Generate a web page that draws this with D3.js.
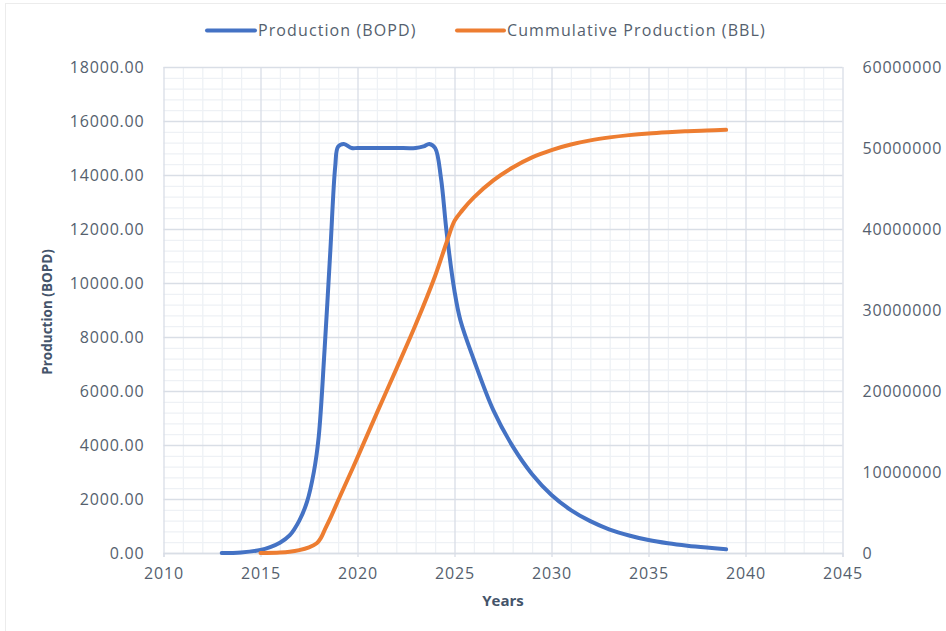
<!DOCTYPE html>
<html>
<head>
<meta charset="utf-8">
<script src="https://cdn.jsdelivr.net/npm/d3@7"></script>
<style>
  html, body { margin: 0; padding: 0; background: #ffffff; }
  svg { display: block; }
  .tick-label { font-family: "Open Sans", sans-serif; font-size: 16px; fill: #555f6e; letter-spacing: 0.8px; }
  .legend-label { font-family: "Open Sans", sans-serif; font-size: 16px; fill: #555f6e; letter-spacing: 1.1px; }
  .axis-title { font-family: "Open Sans", sans-serif; font-weight: 700; fill: #44546a; }
</style>
</head>
<body>
<svg id="chart" width="946" height="631"></svg>
<script>
// ---------------- DATA ----------------
const seriesNames = ["Production (BOPD)", "Cummulative Production (BBL)"];

// Production (BOPD), left axis
const prodYears  = [2013, 2014, 2015, 2015.5, 2016, 2016.5, 2017, 2017.4, 2017.75, 2018, 2018.3, 2018.6, 2018.85, 2019, 2019.3, 2019.7, 2020, 2021, 2022, 2023, 2023.4, 2023.7, 2024, 2024.3, 2024.6, 2025, 2025.3, 2026, 2027, 2028, 2029, 2030, 2031, 2032, 2033, 2034, 2035, 2036, 2037, 2038, 2039];
const prodValues = [0, 20, 110, 220, 380, 650, 1200, 1900, 3000, 4300, 7500, 11200, 14300, 15050, 15150, 15000, 15000, 15000, 15000, 15000, 15060, 15150, 15000, 13900, 11840, 9700, 8630, 7150, 5290, 3950, 2920, 2150, 1590, 1180, 870, 650, 480, 360, 270, 200, 140];

// Cumulative production (BBL), right axis
const cumYears  = [2015, 2016, 2016.5, 2017, 2017.5, 2017.9, 2018.1, 2018.3, 2018.6, 2019.1, 2020, 2021, 2022, 2023, 2024, 2024.6, 2025, 2025.4, 2026, 2027, 2028, 2029, 2030, 2031, 2032, 2033, 2034, 2035, 2036, 2037, 2038, 2039];
const cumValues = [0, 60000, 150000, 350000, 700000, 1200000, 1800000, 2800000, 4300000, 7000000, 11800000, 17300000, 22700000, 28200000, 34200000, 38400000, 41000000, 42300000, 43900000, 46000000, 47600000, 48850000, 49750000, 50430000, 50940000, 51310000, 51590000, 51800000, 51950000, 52070000, 52160000, 52240000];

// Axis ticks
const xTicks = [2010, 2015, 2020, 2025, 2030, 2035, 2040, 2045];
const leftTicks = [0, 2000, 4000, 6000, 8000, 10000, 12000, 14000, 16000, 18000];
const rightTicks = [0, 10000000, 20000000, 30000000, 40000000, 50000000, 60000000];
const xMinorStep = 1;
const leftMinorStep = 400;

const xTitle = "Years";
const yTitle = "Production (BOPD)";

// ---------------- LAYOUT ----------------
const colors = ["#4472C4", "#ED7D31"];
const plot = { left: 163.5, right: 842.5, top: 67, bottom: 553 };

const svg = d3.select("#chart");

// faint outer chart border
svg.append("rect")
  .attr("x", 5.5).attr("y", 3.5)
  .attr("width", 1000).attr("height", 700)
  .attr("fill", "none").attr("stroke", "#ececec").attr("stroke-width", 1);

const x = d3.scaleLinear().domain([xTicks[0], xTicks[xTicks.length - 1]]).range([plot.left, plot.right]);
const yL = d3.scaleLinear().domain([leftTicks[0], leftTicks[leftTicks.length - 1]]).range([plot.bottom, plot.top]);
const yR = d3.scaleLinear().domain([rightTicks[0], rightTicks[rightTicks.length - 1]]).range([plot.bottom, plot.top]);

const plotW = plot.right - plot.left;
const plotH = plot.bottom - plot.top;

// ----- minor grid -----
const xMinor = d3.range(xTicks[0], xTicks[xTicks.length - 1] + 0.001, xMinorStep).filter(v => !xTicks.includes(v));
const yMinor = d3.range(leftTicks[0], leftTicks[leftTicks.length - 1] + 0.001, leftMinorStep).filter(v => !leftTicks.includes(v));

const gMinorX = svg.append("g").attr("transform", `translate(0,${plot.bottom})`)
  .call(d3.axisBottom(x).tickValues(xMinor).tickSize(-plotH).tickFormat(""));
const gMinorY = svg.append("g").attr("transform", `translate(${plot.left},0)`)
  .call(d3.axisLeft(yL).tickValues(yMinor).tickSize(-plotW).tickFormat(""));
[gMinorX, gMinorY].forEach(g => {
  g.select(".domain").remove();
  g.selectAll("line").attr("stroke", "#eef1f5").attr("stroke-width", 1.3);
});

// ----- major grid -----
const gMajorX = svg.append("g").attr("transform", `translate(0,${plot.bottom})`)
  .call(d3.axisBottom(x).tickValues(xTicks).tickSize(-plotH).tickFormat(""));
const gMajorY = svg.append("g").attr("transform", `translate(${plot.left},0)`)
  .call(d3.axisLeft(yL).tickValues(leftTicks).tickSize(-plotW).tickFormat(""));
[gMajorX, gMajorY].forEach(g => {
  g.select(".domain").remove();
  g.selectAll("line").attr("stroke", "#d9dee6").attr("stroke-width", 1.3);
});

// ----- bottom axis with outward ticks -----
const gX = svg.append("g").attr("transform", `translate(0,${plot.bottom})`)
  .call(d3.axisBottom(x).tickValues(xTicks).tickSize(4).tickFormat(d3.format("d")));
gX.select(".domain").attr("stroke", "#d9dee6").attr("stroke-width", 1.3);
gX.selectAll("line").attr("stroke", "#d9dee6").attr("stroke-width", 1.3);
gX.selectAll("text").attr("class", "tick-label").attr("y", 26).attr("dy", null)
  .attr("fill", null);
gX.attr("font-family", null).attr("font-size", null);

// ----- left axis -----
const gL = svg.append("g").attr("transform", `translate(${plot.left},0)`)
  .call(d3.axisLeft(yL).tickValues(leftTicks).tickSize(0).tickPadding(19).tickFormat(d3.format(".2f")));
gL.select(".domain").remove();
gL.selectAll("text").attr("class", "tick-label").attr("fill", null);
gL.attr("font-family", null).attr("font-size", null);

// ----- right axis -----
const gR = svg.append("g").attr("transform", `translate(${plot.right},0)`)
  .call(d3.axisRight(yR).tickValues(rightTicks).tickSize(0).tickPadding(20).tickFormat(d3.format("d")));
gR.select(".domain").remove();
gR.selectAll("text").attr("class", "tick-label").attr("fill", null);
gR.attr("font-family", null).attr("font-size", null);

// ----- lines -----
const prodData = prodYears.map((yr, i) => ({ x: yr, y: prodValues[i] }));
const cumData = cumYears.map((yr, i) => ({ x: yr, y: cumValues[i] }));

const lineL = d3.line().x(d => x(d.x)).y(d => yL(d.y)).curve(d3.curveCatmullRom.alpha(0.5));
const lineR = d3.line().x(d => x(d.x)).y(d => yR(d.y)).curve(d3.curveCatmullRom.alpha(0.5));

svg.append("path").datum(prodData)
  .attr("d", lineL).attr("fill", "none").attr("stroke", colors[0])
  .attr("stroke-width", 4).attr("stroke-linejoin", "round").attr("stroke-linecap", "round");

svg.append("path").datum(cumData)
  .attr("d", lineR).attr("fill", "none").attr("stroke", colors[1])
  .attr("stroke-width", 4).attr("stroke-linejoin", "round").attr("stroke-linecap", "round");

// ----- legend -----
const legendItems = [
  { name: seriesNames[0], color: colors[0], x1: 207, x2: 255 },
  { name: seriesNames[1], color: colors[1], x1: 457, x2: 504 }
];
const legendY = 30.5;
const lg = svg.append("g");
legendItems.forEach(item => {
  lg.append("line").attr("x1", item.x1).attr("x2", item.x2).attr("y1", legendY).attr("y2", legendY)
    .attr("stroke", item.color).attr("stroke-width", 4).attr("stroke-linecap", "round");
  lg.append("text").attr("class", "legend-label").attr("x", item.x2 + 3).attr("y", legendY).attr("dy", "0.35em")
    .text(item.name);
});

// ----- axis titles -----
svg.append("text").attr("class", "axis-title")
  .attr("x", (plot.left + plot.right) / 2).attr("y", 606)
  .attr("text-anchor", "middle").style("font-size", "15px")
  .text(xTitle);

svg.append("text").attr("class", "axis-title")
  .attr("transform", `translate(52,${(plot.top + plot.bottom) / 2 + 2}) rotate(-90)`)
  .attr("text-anchor", "middle").style("font-size", "13.5px")
  .text(yTitle);
</script>
</body>
</html>
